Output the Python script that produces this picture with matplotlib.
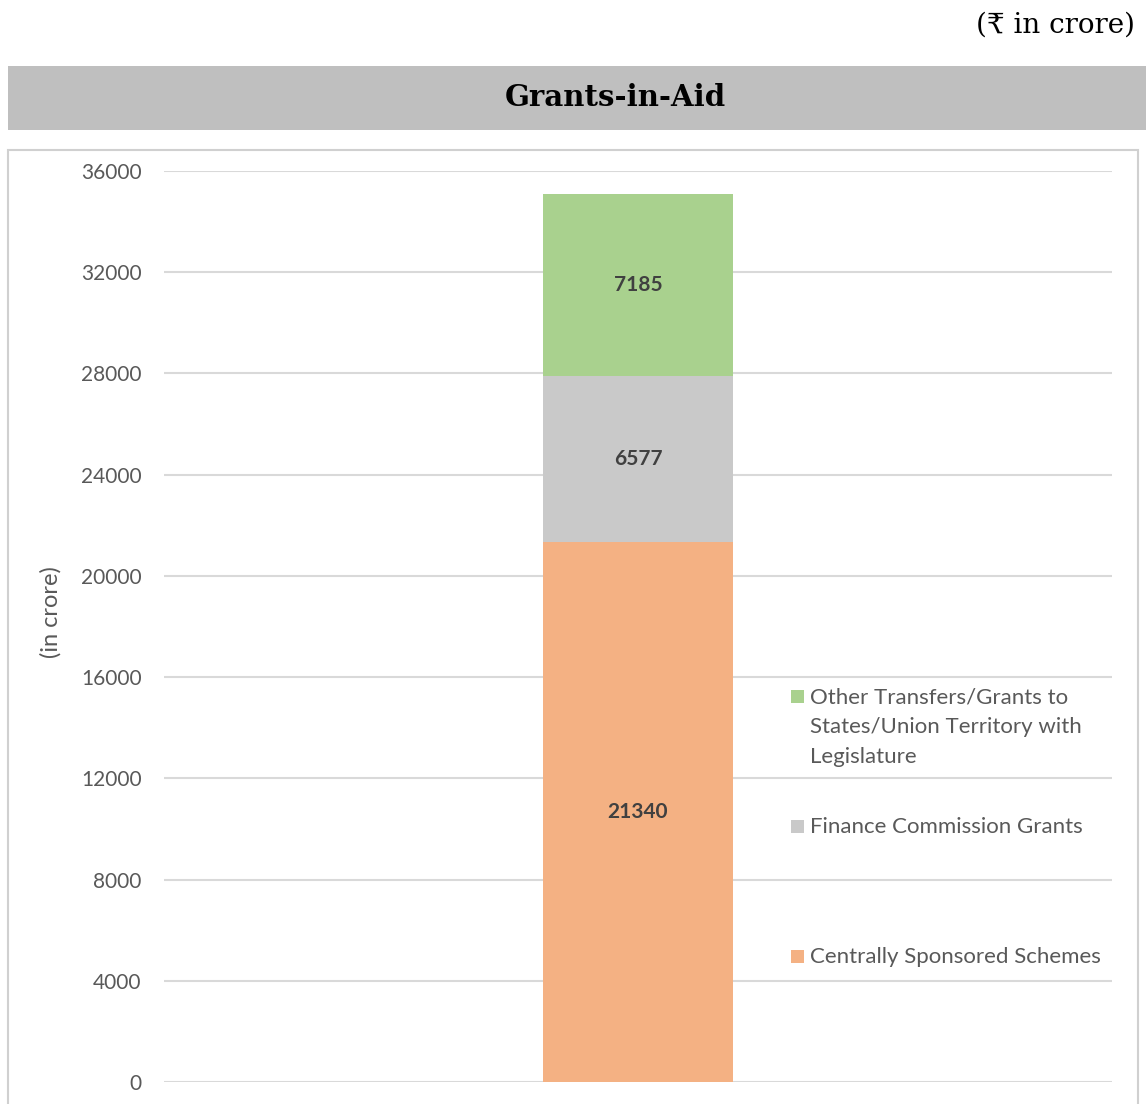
import matplotlib
matplotlib.use("Agg")
import matplotlib.pyplot as plt
from matplotlib.patches import Rectangle

# data
category = ["Grants-in-Aid"]
series = ["Centrally Sponsored Schemes", "Finance Commission Grants",
          "Other Transfers/Grants to\nStates/Union Territory with\nLegislature"]
values = [21340, 6577, 7185]
colors = ["#F4B183", "#C9C9C9", "#A9D18E"]
yticks = [0, 4000, 8000, 12000, 16000, 20000, 24000, 28000, 32000, 36000]

FONT = "Lato"
W, H = 1146, 1104
fig = plt.figure(figsize=(W / 100, H / 100), dpi=100)

# header band and chart frame (figure pixel coords converted to fractions)
fig.patches.append(Rectangle((8 / W, 1 - 130 / H), (W - 8) / W, 64 / H,
                             transform=fig.transFigure, facecolor="#BFBFBF",
                             edgecolor="none", zorder=-2))
fig.patches.append(Rectangle((8 / W, -0.01), 1130 / W, 1 - 150 / H + 0.01,
                             transform=fig.transFigure, facecolor="white",
                             edgecolor="#D0D0D0", linewidth=1.5, zorder=-2))

fig.text(615 / W, 1 - 97 / H, "Grants-in-Aid", ha="center", va="center",
         fontsize=21, fontweight="heavy", family="DejaVu Serif")
fig.text(1135 / W, 1 - 25 / H, "(₹ in crore)", ha="right", va="center",
         fontsize=20, family=["DejaVu Serif", "Liberation Serif"])

ax = fig.add_axes([164 / W, 22 / H, 948 / W, 911 / H])
ax.patch.set_alpha(0)

bottom = 0
for v, c in zip(values, colors):
    ax.bar(0, v, width=0.2, bottom=bottom, color=c, zorder=3)
    ax.text(0, bottom + v / 2, str(v), ha="center", va="center",
            fontsize=15, fontweight="bold", color="#404040",
            family=FONT, zorder=4)
    bottom += v

ax.set_xlim(-0.5, 0.5)
ax.set_ylim(0, 36000)
ax.set_yticks(yticks)
ax.set_yticklabels([str(t) for t in yticks], fontsize=15, color="#595959",
                   family=FONT)
ax.set_xticks([])
ax.tick_params(axis="y", length=0, pad=16)
ax.grid(axis="y", color="#D9D9D9", linewidth=1.5, zorder=0)
for s in ax.spines.values():
    s.set_visible(False)

ax.set_ylabel("(in crore)", fontsize=17, color="#595959", family=FONT)
ax.yaxis.set_label_coords(-0.108, 0.516)

# legend drawn by hand, top entry first, one text line per 30 px
leg_y = [697, 827, 957]
leg_items = list(zip(series, colors))[::-1]
for (lab, c), py in zip(leg_items, leg_y):
    yf = (1082 - py) / 911
    ax.add_patch(Rectangle(((791 - 164) / 948, yf - 6 / 911), 13 / 948, 13 / 911,
                           transform=ax.transAxes, facecolor=c,
                           edgecolor="none", clip_on=False))
    for i, line in enumerate(lab.split("\n")):
        ax.text((810 - 164) / 948, yf - i * 30 / 911, line,
                transform=ax.transAxes, ha="left", va="center",
                fontsize=16, color="#595959", family=FONT)

fig.savefig("out.png", dpi=100)
